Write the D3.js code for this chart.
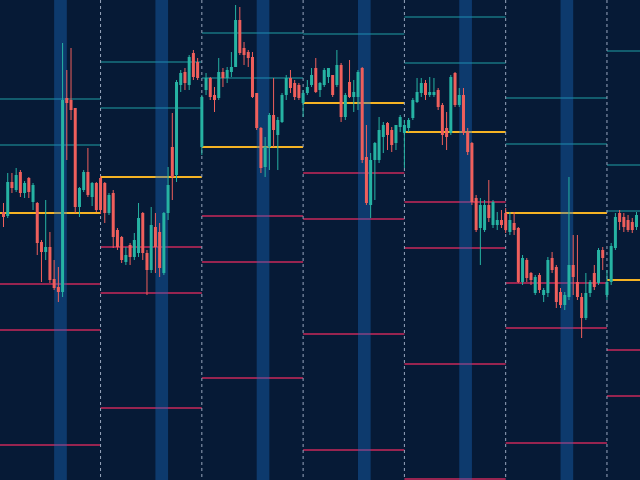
<!DOCTYPE html>
<html>
<head>
<meta charset="utf-8">
<script src="https://d3js.org/d3.v7.min.js"></script>
<style>
  html, body { margin: 0; padding: 0; background: #061a36; }
  svg { display: block; }
</style>
</head>
<body>
<div id="chart"></div>
<script>
// hourly candles, 24 per session
var opens = [
  288,284,318,310,328,307,322,298,297,258,248,253,221,213,208,402,400,392,293,310,328,303,317,322,
  317,287,307,270,263,238,255,243,247,287,247,230,273,268,227,287,353,325,415,428,415,447,438,353,
  410,422,405,402,428,422,428,433,480,452,448,443,407,372,333,353,385,365,378,405,422,417,415,397,
  407,415,432,410,415,423,425,415,435,383,418,403,403,432,343,295,340,340,363,377,370,357,373,367,
  372,382,398,407,417,405,405,410,395,372,367,427,395,405,368,357,302,272,270,295,275,275,280,287,
  268,277,272,218,240,227,207,225,205,207,242,233,208,195,203,235,218,203,182,207,227,217,250,205,
  218,252,287,283,280,278,273
];
var highs = [
  297,327,327,332,330,319,323,317,298,260,300,268,240,233,457,430,452,392,313,330,352,318,318,324,
  318,307,310,272,264,253,257,267,297,288,250,293,287,277,288,333,387,420,430,432,445,450,442,405,
  427,423,413,442,432,433,448,495,493,458,450,448,407,373,363,387,422,383,407,425,430,420,417,410,
  420,432,442,418,432,432,425,450,437,407,440,420,430,433,375,347,358,383,378,378,373,375,385,380,
  382,402,422,422,420,423,422,412,397,388,425,428,412,412,372,358,305,302,300,320,300,288,290,292,
  288,288,273,245,242,228,225,227,212,243,248,235,212,208,323,265,265,207,227,220,235,252,253,230,
  257,287,290,287,285,282,288
];
var lows = [
  273,282,307,308,303,302,302,290,245,218,240,217,210,198,203,340,380,287,283,308,303,294,288,286,
  277,285,252,250,237,235,235,240,243,240,205,227,227,223,225,280,300,318,408,410,410,420,420,345,
  405,400,388,400,413,417,423,433,445,435,433,402,370,327,323,330,353,330,377,400,407,400,400,383,
  405,413,407,403,413,417,403,413,378,380,402,388,390,337,295,282,300,337,347,350,348,350,368,332,
  368,380,397,403,400,403,403,390,355,350,365,393,393,365,345,295,268,235,268,278,272,270,272,267,
  265,265,217,215,218,215,205,207,198,203,227,192,192,190,200,205,200,162,180,203,210,215,230,200,
  215,250,270,268,268,267,270
];
var closes = [
  283,318,312,325,307,317,308,315,257,248,253,220,212,208,400,397,390,293,312,328,305,317,290,290,
  287,305,263,253,240,245,243,260,282,247,230,275,253,232,287,315,323,418,427,417,443,423,422,403,
  422,403,400,428,422,430,433,480,447,445,442,403,372,332,353,385,370,380,405,422,412,403,402,407,
  413,425,408,417,430,432,405,435,383,405,403,408,428,340,297,340,357,370,375,365,355,375,383,375,
  380,400,408,417,405,408,408,393,365,363,423,395,405,367,348,298,270,295,295,282,298,280,275,270,
  280,270,218,242,222,220,223,210,210,240,230,198,195,205,235,223,203,182,207,218,213,250,242,218,
  254,283,278,273,270,270,285
];

// session boundaries (candle index) and highlighted hours
var sessionStarts = [-1, 23, 47, 71, 95, 119, 143];
var sessionEnds   = [23, 47, 71, 95, 119, 143, 167];
var bandStarts = [12, 36, 60, 84, 108, 132];
var bandEnds   = [15, 39, 63, 87, 111, 135];

// pivot levels per session (null = off screen)
var pivot = [287, 323, 353, 397, 368, 287, 220];
var r1 = [355, 392, 422, 466, 437, 356, 289];
var r2 = [401, 438, 467, null, 483, 402, 335];
var r3 = [null, null, null, null, null, null, 449];
var s1 = [216, 253, 284, 327, 298, 217, 150];
var s2 = [170, 207, 238, 281, 252, 172, 104];
var s3 = [55, 92, 122, 166, 136, 57, null];
var s4 = [null, null, null, 50, 21, null, null];

var svgWidth = 640;
var svgHeight = 480;

var upColor = "#26b3a3";
var downColor = "#ef5f5c";

var candles = opens.map(function(o, i) {
    return {i: i, open: o, high: highs[i], low: lows[i], close: closes[i]};
});

var svg = d3.select("#chart")
    .append("svg")
    .attr("width", svgWidth)
    .attr("height", svgHeight);

svg.append("rect")
    .attr("width", svgWidth)
    .attr("height", svgHeight)
    .attr("fill", "#061a36");

var xScale = d3.scaleLinear()
    .domain([0, 150])
    .range([3.5, 636.5]);

var yScale = d3.scaleLinear()
    .domain([20, 500])
    .range([svgHeight, 0]);

// level lines
var levels = [
    {vals: r3, color: "#1f9ea3", w: 1.2},
    {vals: r2, color: "#1f9ea3", w: 1.2},
    {vals: r1, color: "#1f9ea3", w: 1.2},
    {vals: s1, color: "#c8285a", w: 1.5},
    {vals: s2, color: "#c8285a", w: 1.5},
    {vals: s3, color: "#c8285a", w: 1.5},
    {vals: s4, color: "#c8285a", w: 1.5},
    {vals: pivot, color: "#f5b324", w: 2.2}
];

var levelGroup = svg.append("g");
levels.forEach(function(lv) {
    var segs = lv.vals.map(function(v, k) {
        return {v: v, a: sessionStarts[k], b: sessionEnds[k]};
    }).filter(function(d) { return d.v !== null; });

    levelGroup.selectAll(null)
        .data(segs)
        .enter()
        .append("line")
        .attr("x1", d => xScale(d.a))
        .attr("x2", d => xScale(d.b))
        .attr("y1", d => yScale(d.v))
        .attr("y2", d => yScale(d.v))
        .attr("stroke", lv.color)
        .attr("stroke-width", lv.w);
});

// highlighted session hours
svg.append("g").selectAll("rect")
    .data(bandStarts)
    .enter()
    .append("rect")
    .attr("x", d => xScale(d))
    .attr("width", (d, k) => xScale(bandEnds[k]) - xScale(d))
    .attr("y", 0)
    .attr("height", svgHeight)
    .attr("fill", "rgba(25,110,200,0.38)");

// session separators
svg.append("g").selectAll("line")
    .data(sessionStarts.slice(1))
    .enter()
    .append("line")
    .attr("x1", d => xScale(d))
    .attr("x2", d => xScale(d))
    .attr("y1", 0)
    .attr("y2", svgHeight)
    .attr("stroke", "#98a6bd")
    .attr("stroke-width", 1)
    .attr("stroke-dasharray", "3,3");

// candles
var candleGroup = svg.append("g").selectAll("g")
    .data(candles)
    .enter()
    .append("g");

candleGroup.append("line")
    .attr("x1", d => xScale(d.i))
    .attr("x2", d => xScale(d.i))
    .attr("y1", d => yScale(d.high))
    .attr("y2", d => yScale(d.low))
    .attr("stroke", d => d.close >= d.open ? upColor : downColor)
    .attr("stroke-width", 1);

candleGroup.append("rect")
    .attr("x", d => xScale(d.i) - 1.5)
    .attr("width", 3)
    .attr("y", d => yScale(Math.max(d.open, d.close)))
    .attr("height", d => Math.max(1, Math.abs(yScale(d.open) - yScale(d.close))))
    .attr("fill", d => d.close >= d.open ? upColor : downColor);
</script>
</body>
</html>
